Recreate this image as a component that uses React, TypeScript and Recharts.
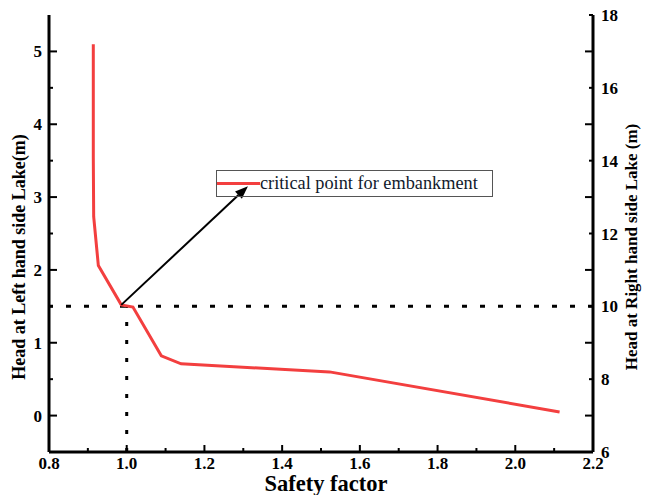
import React from "react";
import {
  LineChart,
  Line,
  XAxis,
  YAxis,
  ReferenceLine,
  Legend,
} from "recharts";

// safety factor vs. left lake head
const safetyFactor = [0.914, 0.914, 0.915, 0.927, 0.986, 1.016, 1.089, 1.14, 1.522, 2.114];
const leftHead = [5.1, 3.55, 2.73, 2.06, 1.52, 1.49, 0.82, 0.71, 0.6, 0.05];

const xTicks = [0.8, 0.9, 1.0, 1.1, 1.2, 1.3, 1.4, 1.5, 1.6, 1.7, 1.8, 1.9, 2.0, 2.1, 2.2];
const leftTicks = [0, 0.5, 1, 1.5, 2, 2.5, 3, 3.5, 4, 4.5, 5];
const rightTicks = [6, 7, 8, 9, 10, 11, 12, 13, 14, 15, 16, 17, 18];

// critical point and where the arrow points to
const criticalPoint = { sf: 0.986, head: 1.52 };
const arrowTip = { sf: 1.312, head: 3.15 };
const criticalRightHead = 10;
const criticalHead = 1.5;
const criticalSf = 1.0;

const data = safetyFactor.map((sf, i) => ({ sf, head: leftHead[i] }));

const FONT = '"Liberation Serif", Tinos, "Times New Roman", "DejaVu Serif", serif';
const RED = "#F33F3F";

function BottomTick({ x, y, payload }: any) {
  const v = payload.value;
  const major = Math.round(v * 10) % 2 === 0;
  return (
    <g>
      <line x1={x} y1={y} x2={x} y2={y - (major ? 7 : 4)} stroke="#000" strokeWidth={2} />
      {major && (
        <text x={x} y={y + 17} textAnchor="middle" style={{ fontFamily: FONT }} fontWeight="bold" fontSize={17} fill="#000">
          {v.toFixed(1)}
        </text>
      )}
    </g>
  );
}

function LeftTick({ x, y, payload }: any) {
  const v = payload.value;
  const major = Number.isInteger(v);
  return (
    <g>
      <line x1={x} y1={y} x2={x + (major ? 8 : 4)} y2={y} stroke="#000" strokeWidth={2} />
      {major && (
        <text x={x - 7} y={y + 6} textAnchor="end" style={{ fontFamily: FONT }} fontWeight="bold" fontSize={17} fill="#000">
          {v}
        </text>
      )}
    </g>
  );
}

function RightTick({ x, y, payload }: any) {
  const v = payload.value;
  const labeled = v % 2 === 0;
  return (
    <g>
      <line x1={x} y1={y} x2={x - (labeled ? 4 : 8)} y2={y} stroke="#000" strokeWidth={2} />
      {labeled && (
        <text x={x + 8} y={y + 6} textAnchor="start" style={{ fontFamily: FONT }} fontWeight="bold" fontSize={17} fill="#000">
          {v}
        </text>
      )}
    </g>
  );
}

// rotated axis title centred at (cx, cy)
function VerticalTitle({ text, cx, cy, size }: { text: string; cx: number; cy: number; size: number }) {
  return (
    <text
      x={cx}
      y={cy}
      transform={`rotate(-90, ${cx}, ${cy})`}
      textAnchor="middle"
      dominantBaseline="central"
      style={{ fontFamily: FONT }}
      fontWeight="bold"
      fontSize={size}
      fill="#000"
    >
      {text}
    </text>
  );
}

function Arrow(props: any) {
  const { x1, y1, x2, y2 } = props;
  const ang = Math.atan2(y2 - y1, x2 - x1);
  const len = 13;
  const half = 5;
  const bx = x2 - len * Math.cos(ang);
  const by = y2 - len * Math.sin(ang);
  const px = -Math.sin(ang) * half;
  const py = Math.cos(ang) * half;
  return (
    <g>
      <line x1={x1} y1={y1} x2={bx} y2={by} stroke="#000" strokeWidth={2} />
      <polygon points={`${x2},${y2} ${bx + px},${by + py} ${bx - px},${by - py}`} fill="#000" />
    </g>
  );
}

function LegendBox() {
  return (
    <div
      style={{
        boxSizing: "border-box",
        width: 277,
        height: 27,
        border: "1px solid #555",
        display: "flex",
        alignItems: "center",
      }}
    >
      <div style={{ width: 43, height: 3, background: RED }} />
      <span style={{ fontFamily: FONT, fontSize: 18.3, color: "#111a2c", lineHeight: "25px", whiteSpace: "nowrap" }}>
        critical point for embankment
      </span>
    </div>
  );
}

export default function App() {
  return (
    <div style={{ position: "absolute", left: 0, top: 0, background: "#fff" }}>
      <LineChart width={646} height={495} data={data} margin={{ top: 15, right: 0, bottom: 0, left: 0 }}>
        <XAxis
          dataKey="sf"
          type="number"
          domain={[0.8, 2.2]}
          ticks={xTicks}
          interval={0}
          height={43}
          tickSize={0}
          tickMargin={0}
          tickLine={false}
          tick={<BottomTick />}
          axisLine={{ stroke: "#000", strokeWidth: 3 }}
          label={{
            content: ({ viewBox }: any) => (
              <text
                x={viewBox.x + viewBox.width / 2 + 5}
                y={491}
                textAnchor="middle"
                style={{ fontFamily: FONT }}
                fontWeight="bold"
                fontSize={22.5}
                fill="#000"
              >
                Safety factor
              </text>
            ),
          }}
        />
        <XAxis
          xAxisId="top"
          orientation="top"
          type="number"
          dataKey="sf"
          domain={[0.8, 2.2]}
          height={0}
          tick={false}
          tickLine={false}
          axisLine={{ stroke: "#000", strokeWidth: 3 }}
        />
        <YAxis
          type="number"
          domain={[-0.5, 5.5]}
          ticks={leftTicks}
          interval={0}
          width={49}
          tickSize={0}
          tickMargin={0}
          tickLine={false}
          tick={<LeftTick />}
          axisLine={{ stroke: "#000", strokeWidth: 3 }}
          label={{
            content: () => (
              <VerticalTitle text="Head at Left hand side Lake(m)" cx={19} cy={257} size={18} />
            ),
          }}
        />
        <YAxis
          yAxisId="right"
          orientation="right"
          type="number"
          domain={[6, 18]}
          ticks={rightTicks}
          interval={0}
          width={53}
          tickSize={0}
          tickMargin={0}
          tickLine={false}
          tick={<RightTick />}
          axisLine={{ stroke: "#000", strokeWidth: 3 }}
          label={{
            content: () => (
              <VerticalTitle text="Head at Right hand side Lake (m)" cx={631} cy={247} size={17} />
            ),
          }}
        />
        <ReferenceLine
          yAxisId="right"
          y={criticalRightHead}
          ifOverflow="extendDomain"
          stroke="#000"
          strokeWidth={3}
          strokeDasharray="5 13"
        />
        <ReferenceLine
          segment={[
            { x: criticalSf, y: -0.5 },
            { x: criticalSf, y: criticalHead },
          ]}
          stroke="#000"
          strokeWidth={3}
          strokeDasharray="4 14"
        />
        <Line
          type="linear"
          dataKey="head"
          stroke={RED}
          strokeWidth={3}
          dot={false}
          activeDot={false}
          isAnimationActive={false}
        />
        <ReferenceLine
          segment={[
            { x: criticalPoint.sf, y: criticalPoint.head },
            { x: arrowTip.sf, y: arrowTip.head },
          ]}
          shape={<Arrow />}
        />
        <Legend
          layout="horizontal"
          verticalAlign="middle"
          align="center"
          content={<LegendBox />}
          wrapperStyle={{ left: 216, top: 170, width: 277 }}
        />
      </LineChart>
    </div>
  );
}
